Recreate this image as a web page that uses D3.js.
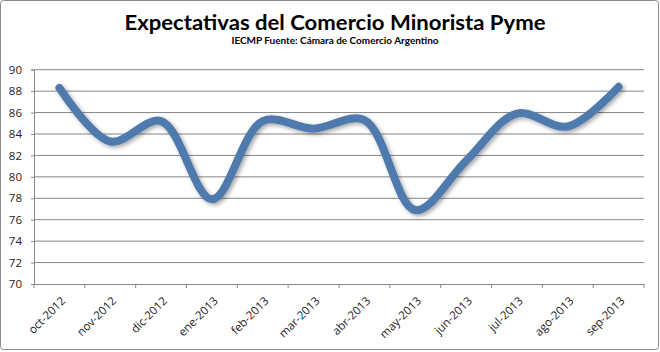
<!DOCTYPE html>
<html>
<head>
<meta charset="utf-8">
<script src="https://cdn.jsdelivr.net/npm/d3@7"></script>
<style>
  body { margin: 0; background: #fff; }
  svg { display: block; }
</style>
</head>
<body>
<script>
// datos
const meses = ["oct-2012", "nov-2012", "dic-2012", "ene-2013", "feb-2013", "mar-2013",
               "abr-2013", "may-2013", "jun-2013", "jul-2013", "ago-2013", "sep-2013"];
const valores = [88.3, 83.3, 85.2, 77.9, 85.2, 84.5, 85.3, 76.9, 81.5, 85.9, 84.7, 88.4];
const yTicks = [70, 72, 74, 76, 78, 80, 82, 84, 86, 88, 90];

const W = 660, H = 352;
const plot = { left: 34, right: 644, top: 69.7, bottom: 284 };

const svg = d3.select("body").append("svg")
    .attr("width", W)
    .attr("height", H);

// borde del grafico
svg.append("rect")
    .attr("x", 0.5).attr("y", 0.5)
    .attr("width", W - 2).attr("height", H - 3)
    .attr("rx", 3)
    .attr("fill", "#fff")
    .attr("stroke", "#8a8a8a");

const defs = svg.append("defs");
const blur = defs.append("filter").attr("id", "soft")
    .attr("x", "-10%").attr("y", "-10%").attr("width", "120%").attr("height", "130%");
blur.append("feGaussianBlur").attr("in", "SourceAlpha").attr("stdDeviation", 2).attr("result", "b");
blur.append("feOffset").attr("in", "b").attr("dx", 1.5).attr("dy", 2).attr("result", "o");
blur.append("feComponentTransfer").attr("in", "o").attr("result", "s")
    .append("feFuncA").attr("type", "linear").attr("slope", 0.35);
blur.append("feGaussianBlur").attr("in", "SourceGraphic").attr("stdDeviation", 0.7).attr("result", "g");
const merge = blur.append("feMerge");
merge.append("feMergeNode").attr("in", "s");
merge.append("feMergeNode").attr("in", "g");

const x = d3.scaleBand().domain(meses).range([plot.left, plot.right]);
const y = d3.scaleLinear().domain([70, 90]).range([plot.bottom, plot.top]);

// lineas de grilla
svg.append("g")
    .selectAll("line")
    .data(yTicks.slice(1))
    .enter().append("line")
    .attr("x1", plot.left).attr("x2", plot.right)
    .attr("y1", d => y(d)).attr("y2", d => y(d))
    .attr("stroke", "#868686")
    .attr("stroke-width", 1);

// eje y
const yAxis = svg.append("g")
    .attr("transform", `translate(${plot.left},0)`)
    .call(d3.axisLeft(y).tickValues(yTicks).tickSize(3).tickPadding(9));
yAxis.select(".domain").attr("stroke", "#868686");
yAxis.selectAll(".tick line").attr("stroke", "#868686");
yAxis.selectAll("text")
    .style("font-family", "'Open Sans', sans-serif")
    .style("font-size", "11.5px")
    .attr("fill", "#222");

// eje x
const xAxis = svg.append("g")
    .attr("transform", `translate(0,${plot.bottom})`)
    .call(d3.axisBottom(x).tickSize(0).tickFormat(""));
xAxis.select(".domain").attr("stroke", "#868686");

svg.append("g")
    .selectAll("line")
    .data(meses.concat(["fin"]))
    .enter().append("line")
    .attr("x1", (d, i) => plot.left + i * x.step())
    .attr("x2", (d, i) => plot.left + i * x.step())
    .attr("y1", plot.bottom).attr("y2", plot.bottom + 4)
    .attr("stroke", "#868686");

svg.append("g")
    .selectAll("text")
    .data(meses)
    .enter().append("text")
    .attr("transform", d => `translate(${x(d) + x.bandwidth() / 2 + 1},${plot.bottom + 12}) rotate(-45)`)
    .attr("text-anchor", "end")
    .attr("dy", "0.7em")
    .style("font-family", "'Open Sans', sans-serif")
    .style("font-size", "11.5px")
    .attr("fill", "#222")
    .text(d => d);

// serie
const line = d3.line()
    .x((d, i) => x(meses[i]) + x.bandwidth() / 2)
    .y(d => y(d))
    .curve(d3.curveCatmullRom.alpha(0.5));

svg.append("path")
    .datum(valores)
    .attr("fill", "none")
    .attr("stroke", "#4f7aae")
    .attr("stroke-width", 8)
    .attr("stroke-linecap", "round")
    .attr("stroke-linejoin", "round")
    .attr("filter", "url(#soft)")
    .attr("d", line);

// titulos
svg.append("text")
    .attr("x", 335).attr("y", 30)
    .attr("text-anchor", "middle")
    .attr("textLength", 421)
    .attr("lengthAdjust", "spacingAndGlyphs")
    .style("font-family", "Lato, sans-serif")
    .style("font-weight", "bold")
    .style("font-size", "21px")
    .attr("fill", "#000")
    .text("Expectativas del Comercio Minorista Pyme");

svg.append("text")
    .attr("x", 335).attr("y", 43.5)
    .attr("text-anchor", "middle")
    .attr("textLength", 207)
    .attr("lengthAdjust", "spacingAndGlyphs")
    .style("font-family", "Lato, sans-serif")
    .style("font-weight", "bold")
    .style("font-size", "9.5px")
    .attr("fill", "#000")
    .text("IECMP Fuente: Cámara de Comercio Argentino");
</script>
</body>
</html>
